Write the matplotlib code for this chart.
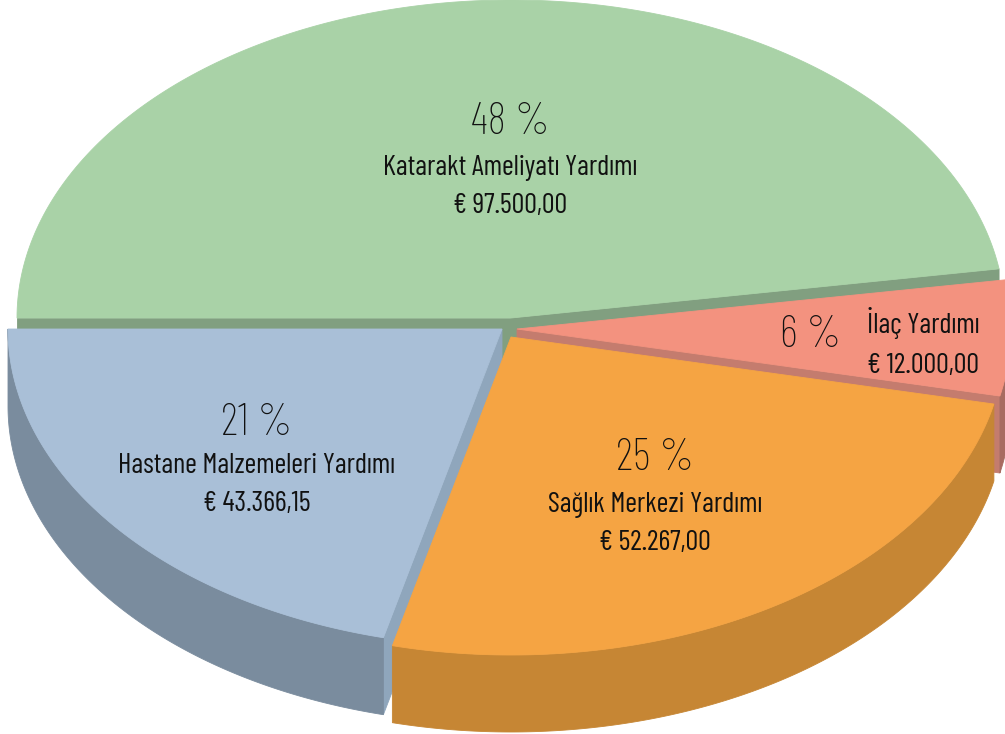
import numpy as np
import matplotlib
matplotlib.use("Agg")
import matplotlib.pyplot as plt
from matplotlib.patches import Polygon

# ---------------- data ----------------
categories = ["Katarakt Ameliyatı Yardımı", "İlaç Yardımı",
              "Sağlık Merkezi Yardımı", "Hastane Malzemeleri Yardımı"]
values = [97500.00, 12000.00, 52267.00, 43366.15]
percent_labels = ["48 %", "6 %", "25 %", "21 %"]
amount_labels = ["€ 97.500,00", "€ 12.000,00", "€ 52.267,00", "€ 43.366,15"]

top_colors = ["#A9D2A7", "#F3927F", "#F5A443", "#A9BFD7"]
cut_colors = ["#819F80", "#C47C6E", "#C9893A", "#8FA6BC"]
wall_colors = ["#7F9C7E", "#A86B61", "#C68634", "#7A8C9E"]

# ---------------- layout (pixels) ----------------
W, H = 1005, 734
CX, CY = 511, 318
RX, RY = 494, 318
DEPTH = 77
explode = [(0, 0), (6, 11), (0, 19), (-9, 11)]
draw_order = [0, 1, 3, 2]
# label layout: (x percent, baseline percent, baseline name, baseline amount, x name/amount)
label_layout = [
    (510, 134, 175, 213, 510),
    (811, 347, 333, 373, 923),
    (655, 470, 512, 550, 655),
    (257, 435, 473, 511, 257),
]

FONT = ["Barlow Condensed", "Roboto Condensed", "IBM Plex Sans Condensed", "DejaVu Sans"]

fig = plt.figure(figsize=(W / 100, H / 100), dpi=100)
ax = fig.add_axes([0, 0, 1, 1])
ax.set_xlim(0, W)
ax.set_ylim(H, 0)
ax.axis("off")

total = sum(values)
spans = [360.0 * v / total for v in values]
starts = []
t = 180.0
for s in spans:
    starts.append(t)
    t -= s


def pt(cx, cy, ang, dy=0.0):
    a = np.radians(ang)
    return (cx + RX * np.cos(a), cy - RY * np.sin(a) + dy)


def arc(cx, cy, a0, a1, dy=0.0, n=200):
    angs = np.linspace(a0, a1, n)
    a = np.radians(angs)
    return np.column_stack([cx + RX * np.cos(a), cy - RY * np.sin(a) + dy])


def add(poly, color, z):
    ax.add_patch(Polygon(poly, closed=True, facecolor=color, edgecolor=color,
                         linewidth=0.6, zorder=z))


z = 1
for i in draw_order:
    cx, cy = CX + explode[i][0], CY + explode[i][1]
    t0 = starts[i]
    t1 = t0 - spans[i]
    # cut faces
    for edge, vis in ((t0, np.cos(np.radians(t0)) < 0), (t1, np.cos(np.radians(t1)) > 0)):
        if vis:
            p = pt(cx, cy, edge)
            poly = [(cx, cy), p, (p[0], p[1] + DEPTH), (cx, cy + DEPTH)]
            add(poly, cut_colors[i], z)
    # outer wall (front half: angles between -180 and 0)
    lo, hi = max(t1, -180.0), min(t0, 0.0)
    if hi > lo:
        top = arc(cx, cy, hi, lo)
        bot = arc(cx, cy, lo, hi, dy=DEPTH)
        add(np.vstack([top, bot]), wall_colors[i], z)
    z += 1
    # top face
    poly = np.vstack([[cx, cy], arc(cx, cy, t0, t1)])
    add(poly, top_colors[i], z)
    z += 1

for i in range(len(values)):
    xp, bp, bn, ba, xn = label_layout[i]
    ax.text(xp, bp, percent_labels[i], ha="center", va="baseline",
            fontsize=32, family=FONT, fontweight="light", color="#111111", zorder=50)
    ax.text(xn, bn, categories[i], ha="center", va="baseline",
            fontsize=20.5, family=FONT, color="#111111", zorder=50)
    ax.text(xn, ba, amount_labels[i], ha="center", va="baseline",
            fontsize=20.5, family=FONT, color="#111111", zorder=50)

fig.savefig("out.png", dpi=100, facecolor="white")
